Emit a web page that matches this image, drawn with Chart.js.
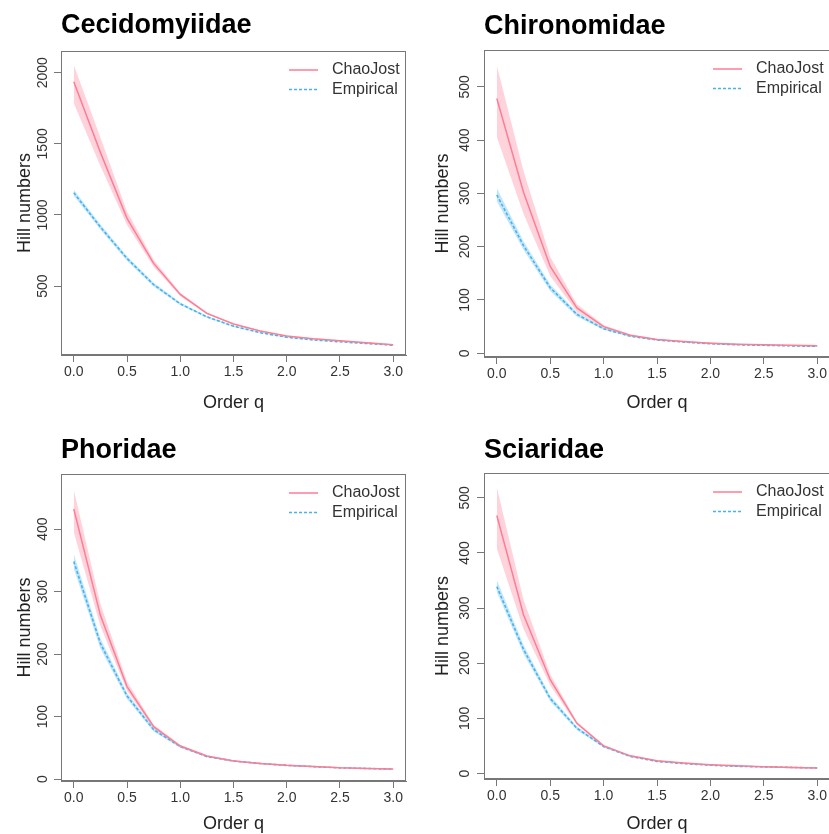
<!DOCTYPE html>
<html lang="en">
<head>
<meta charset="UTF-8">
<title>Hill numbers by order q</title>
<script src="https://cdn.jsdelivr.net/npm/chart.js"></script>
<style>
  html, body { margin: 0; padding: 0; background: #fff; overflow: hidden; }
  body { width: 829px; height: 834px; position: relative; }
  canvas { position: absolute; }
</style>
</head>
<body>
<canvas id="c1" width="440" height="417" style="left:0px;top:0px"></canvas>
<canvas id="c2" width="440" height="417" style="left:415px;top:0px"></canvas>
<canvas id="c3" width="440" height="420" style="left:0px;top:417px"></canvas>
<canvas id="c4" width="440" height="420" style="left:415px;top:417px"></canvas>

<script>
// ---- data ----
const qValues = [0, 0.25, 0.5, 0.75, 1, 1.25, 1.5, 1.75, 2, 2.25, 2.5, 2.75, 3];
const xTicks = [0, 0.5, 1, 1.5, 2, 2.5, 3];
const seriesLabels = ['ChaoJost', 'Empirical'];
const panelTitles = ['Cecidomyiidae', 'Chironomidae', 'Phoridae', 'Sciaridae'];

// Cecidomyiidae
const cecidChao   = [1937, 1440, 976, 659, 441, 308, 233, 184, 148, 129, 115, 101, 87];
const cecidChaoLo = [1785, 1345, 930, 635, 430, 301, 229, 181, 145, 126, 112, 98, 84];
const cecidChaoHi = [2055, 1545, 1025, 685, 453, 315, 237, 189, 151, 132, 118, 104, 89];
const cecidEmp    = [1156, 915, 694, 510, 375, 283, 218, 172, 140, 121, 108, 96, 84];
const cecidEmpLo  = [1135, 897, 678, 497, 366, 277, 214, 169, 137, 119, 106, 94, 82];
const cecidEmpHi  = [1177, 933, 710, 523, 384, 289, 222, 175, 143, 123, 110, 98, 86];
const cecidYTicks = [500, 1000, 1500, 2000];

// Chironomidae
const chiroChao   = [478, 302, 163, 85, 50, 34, 26, 22, 19, 17, 16, 15, 14];
const chiroChaoLo = [406, 262, 145, 78, 47, 33, 25, 21, 18, 16, 15, 14, 13];
const chiroChaoHi = [540, 342, 181, 92, 53, 35, 27, 23, 20, 18, 16, 15, 14];
const chiroEmp    = [297, 202, 123, 73, 46, 32, 25, 21, 18, 16, 15, 14, 13];
const chiroEmpLo  = [285, 194, 117, 69, 44, 31, 24, 20, 17, 15, 14, 13, 12];
const chiroEmpHi  = [310, 210, 129, 77, 48, 33, 26, 22, 19, 17, 16, 15, 14];
const chiroYTicks = [0, 100, 200, 300, 400, 500];

// Phoridae
const phoriChao   = [432, 262, 148, 84, 53, 37, 29, 25, 22, 20, 18, 17, 16];
const phoriChaoLo = [395, 245, 141, 81, 51, 36, 28, 24, 21, 19, 18, 17, 15];
const phoriChaoHi = [463, 280, 156, 87, 55, 38, 30, 26, 23, 21, 19, 18, 16];
const phoriEmp    = [348, 217, 133, 79, 52, 36, 29, 25, 22, 20, 18, 17, 16];
const phoriEmpLo  = [337, 209, 128, 76, 50, 35, 28, 24, 21, 19, 18, 17, 15];
const phoriEmpHi  = [360, 225, 138, 82, 54, 37, 30, 25, 22, 20, 19, 17, 16];
const phoriYTicks = [0, 100, 200, 300, 400];

// Sciaridae
const sciarChao   = [468, 288, 170, 91, 50, 32, 23, 19, 16, 14, 12, 11, 10];
const sciarChaoLo = [408, 262, 160, 88, 49, 31, 22, 18, 15, 13, 12, 11, 10];
const sciarChaoHi = [519, 315, 180, 94, 52, 33, 24, 19, 16, 14, 13, 12, 11];
const sciarEmp    = [339, 225, 136, 82, 49, 31, 22, 18, 15, 13, 12, 11, 10];
const sciarEmpLo  = [329, 217, 131, 79, 47, 30, 21, 17, 14, 12, 11, 10, 9];
const sciarEmpHi  = [351, 233, 141, 85, 51, 32, 23, 19, 16, 14, 13, 12, 11];
const sciarYTicks = [0, 100, 200, 300, 400, 500];

const FONT = '"Liberation Sans", Arial, Helvetica, sans-serif';
const CHAO_LINE = '#ff7d93';
const CHAO_BAND = 'rgba(255, 182, 196, 0.6)';
const EMP_LINE = '#45b4ea';
const EMP_BAND = 'rgba(135, 206, 250, 0.5)';

const pts = arr => arr.map((v, i) => ({ x: qValues[i], y: v }));

// box round the plot region, like R's box()
const framePlugin = {
    id: 'frame',
    afterDraw(chart) {
        const a = chart.chartArea, ctx = chart.ctx;
        ctx.save();
        ctx.strokeStyle = '#777';
        ctx.lineWidth = 1;
        ctx.strokeRect(a.left + 0.5, a.top + 0.5, a.right - a.left - 1, a.bottom - a.top - 1);
        ctx.restore();
    }
};

// legend in the top right corner of the plot
const cornerLegend = {
    id: 'cornerLegend',
    afterDraw(chart) {
        const a = chart.chartArea, ctx = chart.ctx;
        const items = chart.data.datasets.filter(d => d.inLegend);
        ctx.save();
        ctx.font = '16px ' + FONT;
        ctx.textBaseline = 'middle';
        ctx.textAlign = 'left';
        items.forEach((d, i) => {
            const y = a.top + 19 + i * 19.5;
            ctx.strokeStyle = d.borderColor;
            ctx.lineWidth = d.borderWidth;
            ctx.setLineDash(d.borderDash || []);
            ctx.beginPath();
            ctx.moveTo(a.right - 117, y);
            ctx.lineTo(a.right - 88, y);
            ctx.stroke();
            ctx.setLineDash([]);
            ctx.fillStyle = '#333';
            ctx.fillText(d.label, a.right - 74, y);
        });
        ctx.restore();
    }
};

function makePanel(id, p) {
    const datasets = [
        { label: seriesLabels[0], data: pts(p.chao), borderColor: CHAO_LINE, borderWidth: 1.5, pointRadius: 0, fill: false, order: 0, inLegend: true },
        { label: seriesLabels[1], data: pts(p.emp), borderColor: EMP_LINE, borderWidth: 1.6, borderDash: [3, 2], pointRadius: 0, fill: false, order: 0, inLegend: true },
        { label: 'chaoLo', data: pts(p.chaoLo), borderWidth: 0, pointRadius: 0, fill: false, order: 2 },
        { label: 'chaoHi', data: pts(p.chaoHi), borderWidth: 0, pointRadius: 0, backgroundColor: CHAO_BAND, fill: '-1', order: 2 },
        { label: 'empLo', data: pts(p.empLo), borderWidth: 0, pointRadius: 0, fill: false, order: 1 },
        { label: 'empHi', data: pts(p.empHi), borderWidth: 0, pointRadius: 0, backgroundColor: EMP_BAND, fill: '-1', order: 1 }
    ];

    const canvas = document.getElementById(id);
    new Chart(canvas, {
        type: 'line',
        data: { datasets },
        options: {
            responsive: false,
            animation: false,
            layout: { padding: { left: 0, top: 0, right: canvas.width - p.right, bottom: p.padBottom } },
            elements: { line: { tension: 0 } },
            plugins: {
                legend: { display: false },
                tooltip: { enabled: false },
                title: {
                    display: true,
                    text: p.title,
                    align: 'start',
                    fullSize: false,
                    color: '#000',
                    font: { family: FONT, size: 27, weight: 'bold' },
                    padding: { top: p.titleTop, bottom: p.titleBottom }
                }
            },
            scales: {
                x: {
                    type: 'linear',
                    min: -0.12,
                    max: 3.12,
                    afterBuildTicks: s => { s.ticks = xTicks.map(v => ({ value: v })); },
                    afterFit: s => { s.height = p.xHeight; },
                    grid: { display: true, drawOnChartArea: false, drawTicks: true, tickLength: 7, color: '#777' },
                    border: { display: true, color: '#777' },
                    ticks: { padding: 2, color: '#333', font: { family: FONT, size: 14 }, maxRotation: 0, callback: v => v.toFixed(1) },
                    title: { display: true, text: 'Order q', color: '#222', font: { family: FONT, size: 18 }, padding: { top: 0, bottom: 0 } }
                },
                y: {
                    type: 'linear',
                    min: p.yMin,
                    max: p.yMax,
                    afterBuildTicks: s => { s.ticks = p.yTicks.map(v => ({ value: v })); },
                    afterFit: s => { s.width = p.left; },
                    grid: { display: true, drawOnChartArea: false, drawTicks: true, tickLength: 7, color: '#777' },
                    border: { display: true, color: '#777' },
                    ticks: { padding: p.yTickPad, color: '#333', crossAlign: 'center', minRotation: 90, maxRotation: 90, font: { family: FONT, size: 14 }, callback: v => String(v) },
                    title: { display: true, text: 'Hill numbers', color: '#222', font: { family: FONT, size: 18 }, padding: { top: p.yTitlePad, bottom: 0 } }
                }
            }
        },
        plugins: [framePlugin, cornerLegend]
    });
}

makePanel('c1', {
    title: panelTitles[0], chao: cecidChao, chaoLo: cecidChaoLo, chaoHi: cecidChaoHi,
    emp: cecidEmp, empLo: cecidEmpLo, empHi: cecidEmpHi, yTicks: cecidYTicks,
    yMin: 15, yMax: 2153, left: 61, right: 406, padBottom: 3.5, xHeight: 58.5,
    titleTop: 9.3, titleBottom: 9.3, yTickPad: -4.9, yTitlePad: 14.2
});
makePanel('c2', {
    title: panelTitles[1], chao: chiroChao, chaoLo: chiroChaoLo, chaoHi: chiroChaoHi,
    emp: chiroEmp, empLo: chiroEmpLo, empHi: chiroEmpHi, yTicks: chiroYTicks,
    yMin: -7, yMax: 569, left: 69, right: 415, padBottom: 3.5, xHeight: 56.5,
    titleTop: 10.3, titleBottom: 7.3, yTickPad: 0, yTitlePad: 17.5
});
makePanel('c3', {
    title: panelTitles[2], chao: phoriChao, chaoLo: phoriChaoLo, chaoHi: phoriChaoHi,
    emp: phoriEmp, empLo: phoriEmpLo, empHi: phoriEmpHi, yTicks: phoriYTicks,
    yMin: -3, yMax: 488, left: 61, right: 406, padBottom: 2.5, xHeight: 53.5,
    titleTop: 17.5, titleBottom: 7.1, yTickPad: -1, yTitlePad: 14.2
});
makePanel('c4', {
    title: panelTitles[3], chao: sciarChao, chaoLo: sciarChaoLo, chaoHi: sciarChaoHi,
    emp: sciarEmp, empLo: sciarEmpLo, empHi: sciarEmpHi, yTicks: sciarYTicks,
    yMin: -10, yMax: 545, left: 69, right: 415, padBottom: 2.5, xHeight: 55.5,
    titleTop: 17.5, titleBottom: 6.1, yTickPad: 0.3, yTitlePad: 17.5
});
</script>
</body>
</html>
